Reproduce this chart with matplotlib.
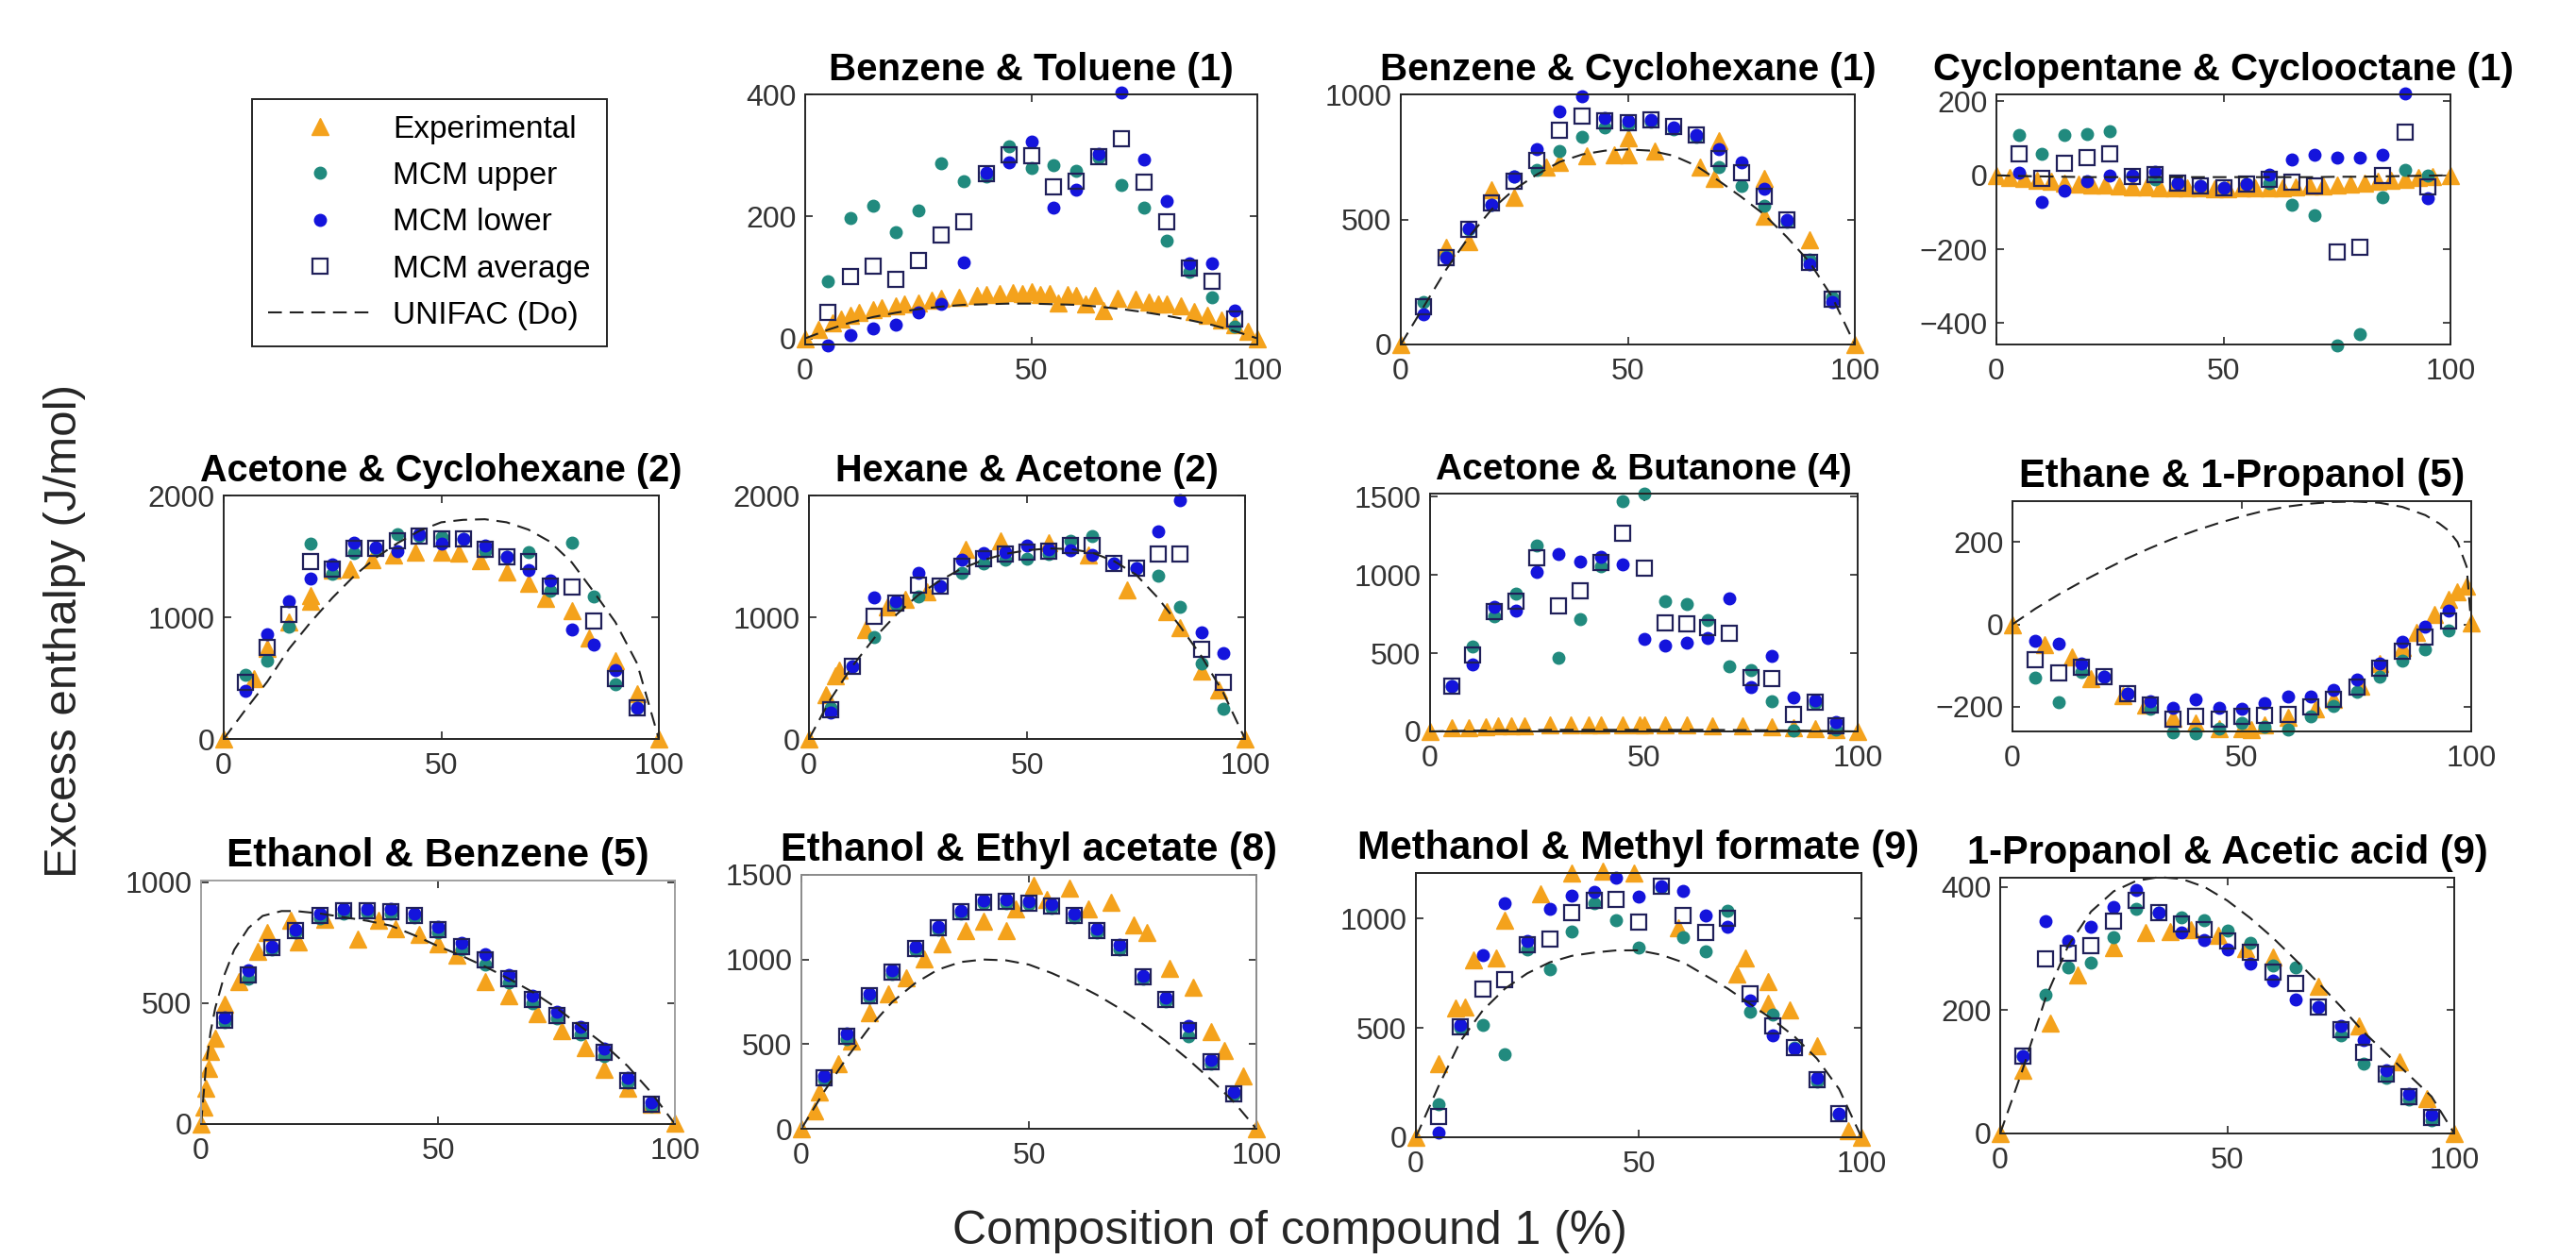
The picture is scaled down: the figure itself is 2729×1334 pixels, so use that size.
import matplotlib
matplotlib.use("Agg")
import matplotlib.pyplot as plt
from matplotlib.lines import Line2D

plt.rcParams['font.family'] = ['Liberation Sans', 'DejaVu Sans']

W, H = 2729, 1334

# composition of compound 1 (%) for the MCM points, shared by every panel
MCM_X = [5, 10, 15, 20, 25, 30, 35, 40, 45, 50, 55, 60, 65, 70, 75, 80, 85, 90, 95]
UNI_X = [0, 5, 10, 15, 20, 25, 30, 35, 40, 45, 50, 55, 60, 65, 70, 75, 80, 85, 90, 95, 100]

# Benzene & Toluene
bt_exp_x = [0, 3, 6, 8, 10, 12, 15, 17, 20, 22, 25, 28, 30, 34, 38, 40, 43, 46, 48, 50,
            52, 54, 56, 58, 60, 62, 64, 66, 69, 73, 76, 78, 80, 83, 86, 89, 92, 95, 98, 100]
bt_exp_y = [0, 15, 25, 32, 38, 42, 47, 50, 54, 56, 58, 62, 66, 68, 70, 72, 73, 75, 74, 76,
            72, 74, 58, 72, 70, 57, 70, 46, 66, 64, 60, 57, 57, 54, 44, 38, 30, 22, 12, 0]
bt_upper = [93, 198, 218, 174, 210, 287, 257, 265, 315, 279, 284, 275, 297, 252, 214, 160, 109, 67, 20]
bt_lower = [-12, 6, 17, 23, 43, 56, 124, 271, 288, 322, 214, 244, 303, 403, 293, 225, 123, 123, 45]
bt_avg = [42, 102, 118, 97, 127, 169, 191, 270, 301, 300, 248, 258, 298, 328, 256, 191, 116, 93, 32]
bt_uni = [0, 14, 26, 35, 42, 48, 52, 55, 56, 57, 57, 56, 55, 52, 48, 43, 37, 30, 22, 12, 0]

# Benzene & Cyclohexane
bc_exp_x = [0, 10, 15, 20, 25, 32, 35, 41, 47, 50, 50, 56, 66, 69, 70, 80, 80, 90, 100]
bc_exp_y = [0, 390, 410, 620, 590, 710, 730, 755, 760, 825, 760, 775, 710, 665, 815, 665, 515, 420, 0]
bc_upper = [170, 350, 460, 560, 673, 698, 774, 830, 868, 880, 890, 860, 830, 711, 635, 553, 490, 340, 190]
bc_lower = [120, 346, 465, 560, 673, 780, 931, 994, 906, 893, 899, 868, 836, 780, 730, 623, 500, 320, 170]
bc_avg = [151, 348, 459, 566, 654, 736, 855, 912, 893, 887, 899, 870, 836, 742, 686, 591, 497, 330, 180]
bc_uni = [0, 150, 300, 430, 540, 620, 680, 730, 760, 775, 780, 775, 755, 715, 655, 590, 520, 430, 330, 190, 0]

# Cyclopentane & Cyclooctane
cc_exp_x = [0, 3, 6, 9, 12, 15, 18, 21, 24, 27, 30, 33, 36, 39, 42, 45, 48, 51, 54, 57,
            60, 63, 66, 69, 72, 75, 78, 81, 84, 87, 90, 93, 96, 100]
cc_exp_y = [0, -5, -9, -13, -17, -20, -23, -25, -27, -29, -31, -32, -33, -34, -35, -35, -36, -36, -35, -35,
            -34, -33, -32, -30, -28, -26, -23, -20, -17, -13, -10, -7, -4, 0]
cc_upper = [110, 59, 108, 112, 119, 0, -11, -21, -28, -34, -24, -20, -79, -109, -460, -431, -60, 14, 0]
cc_lower = [6, -72, -41, -15, 0, 0, 10, -21, -28, -34, -24, 2, 43, 55, 49, 49, 55, 221, -62]
cc_avg = [59, -9, 33, 49, 57, -3, 2, -21, -28, -34, -24, -11, -18, -28, -207, -194, -1, 118, -32]
cc_uni = [0, -2, -3, -4, -5, -5, -5, -5, -5, -5, -5, -5, -5, -5, -5, -4, -4, -3, -2, -1, 0]

# Acetone & Cyclohexane
ach_exp_x = [0, 7, 10, 15, 20, 20, 25, 29, 34, 39, 44, 50, 54, 59, 65, 70, 74, 80, 84, 90, 95, 100]
ach_exp_y = [0, 500, 744, 960, 1180, 1128, 1385, 1397, 1474, 1513, 1538, 1538, 1526, 1462, 1372, 1282,
             1154, 1051, 833, 641, 372, 0]
ach_upper = [526, 641, 923, 1603, 1359, 1526, 1564, 1679, 1670, 1659, 1640, 1545, 1500, 1538, 1218, 1615, 1167, 449, 256]
ach_lower = [397, 859, 1128, 1321, 1436, 1615, 1577, 1544, 1679, 1603, 1641, 1590, 1500, 1385, 1300, 897, 774, 569, 256]
ach_avg = [462, 749, 1026, 1454, 1397, 1564, 1564, 1628, 1667, 1641, 1641, 1556, 1500, 1456, 1256, 1249, 967, 500, 256]
ach_uni = [0, 240, 470, 740, 960, 1160, 1340, 1490, 1610, 1710, 1780, 1800, 1805, 1780, 1720, 1620, 1450, 1210, 960, 620, 0]

# Hexane & Acetone
ha_exp_x = [0, 4, 6, 7, 13, 18, 22, 27, 36, 44, 55, 64, 73, 82, 85, 90, 94, 100]
ha_exp_y = [0, 361, 516, 568, 903, 1084, 1150, 1213, 1561, 1626, 1613, 1510, 1226, 1045, 916, 555, 400, 0]
ha_upper = [258, 594, 839, 1110, 1174, 1252, 1368, 1445, 1471, 1484, 1523, 1626, 1665, 1445, 1406, 1342, 1084, 619, 245]
ha_lower = [219, 594, 1161, 1130, 1368, 1252, 1471, 1528, 1535, 1587, 1561, 1548, 1510, 1445, 1406, 1703, 1961, 877, 702]
ha_avg = [240, 594, 1006, 1120, 1265, 1252, 1419, 1484, 1517, 1535, 1540, 1587, 1587, 1445, 1406, 1523, 1523, 735, 465]
ha_uni = [0, 330, 600, 830, 1020, 1180, 1300, 1400, 1470, 1520, 1550, 1565, 1560, 1530, 1460, 1350, 1160, 930, 680, 380, 0]

# Acetone & Butanone
ab_exp_x = [0, 5, 9, 13, 16, 19, 22, 28, 33, 37, 40, 45, 49, 50, 55, 60, 66, 73, 80, 85, 90, 95, 100]
ab_exp_y = [0, 22, 27, 31, 34, 36, 38, 40, 41, 42, 43, 44, 44, 44, 43, 41, 39, 35, 30, 25, 18, 10, 0]
ab_upper = [292, 543, 734, 879, 1187, 469, 718, 1056, 1469, 1523, 835, 815, 710, 416, 392, 195, 4, 180, 15]
ab_lower = [292, 427, 795, 775, 1020, 1133, 1087, 1113, 1070, 590, 549, 569, 598, 851, 282, 483, 215, 200, 60]
ab_avg = [292, 489, 765, 835, 1107, 801, 901, 1080, 1264, 1046, 694, 690, 664, 628, 342, 336, 107, 190, 38]
ab_uni = [0, 3, 5, 7, 8, 9, 10, 10, 10, 10, 10, 10, 10, 10, 9, 8, 7, 6, 4, 2, 0]

# Ethane & 1-Propanol
ep_exp_x = [0, 7, 13, 17, 24, 29, 35, 40, 45, 50, 52, 55, 60, 66, 70, 76, 80, 85, 88, 92, 95, 97, 99, 100]
ep_exp_y = [0, -50, -80, -132, -172, -195, -229, -240, -252, -252, -256, -244, -225, -206, -181, -149,
            -95, -57, -19, 23, 61, 80, 92, 4]
ep_upper = [-130, -189, -115, -128, -168, -206, -262, -265, -252, -240, -248, -256, -224, -198, -164, -126, -88, -61, -15]
ep_lower = [-40, -48, -95, -128, -168, -187, -202, -183, -202, -206, -191, -176, -176, -160, -135, -95, -42, -5, 34]
ep_avg = [-86, -117, -105, -128, -168, -196, -231, -224, -231, -224, -221, -219, -201, -183, -153, -107, -65, -31, 8]
ep_uni_x = [0, 5, 10, 15, 20, 25, 30, 35, 40, 45, 50, 55, 60, 65, 70, 75, 80, 85, 90, 93, 95, 97, 99, 100]
ep_uni_y = [0, 38, 72, 103, 132, 160, 185, 208, 228, 246, 262, 276, 286, 293, 297, 298, 295, 285, 265, 245,
            228, 200, 140, 0]

# Ethanol & Benzene
eb_exp_x = [0, 0.5, 1, 1.5, 2, 3, 5, 8, 12, 14, 19, 20.5, 26, 33, 37.5, 41, 46, 50, 54, 60,
            65, 71, 76, 81, 85, 90, 95, 100]
eb_exp_y = [0, 70, 150, 230, 300, 355, 497, 588, 712, 790, 842, 751, 848, 764, 842, 809, 783, 744, 699, 588,
            530, 458, 387, 316, 225, 147, 82, 4]
eb_upper = [420, 600, 720, 790, 850, 870, 875, 870, 855, 790, 720, 660, 585, 500, 435, 370, 280, 170, 75]
eb_lower = [440, 635, 735, 805, 870, 890, 890, 888, 870, 815, 750, 700, 615, 530, 465, 400, 310, 190, 90]
eb_avg = [430, 618, 728, 798, 860, 880, 882, 879, 862, 802, 735, 680, 600, 515, 450, 385, 295, 180, 82]
eb_uni_x = [0, 1, 2, 3, 5, 7, 10, 13, 17, 20, 25, 30, 35, 40, 45, 50, 55, 60, 65, 70, 75, 80, 85, 90, 95, 100]
eb_uni_y = [0, 230, 380, 480, 620, 720, 810, 860, 880, 880, 870, 855, 840, 820, 780, 735, 695, 650, 600, 545,
            480, 405, 330, 240, 130, 0]

# Ethanol & Ethyl acetate
ee_exp_x = [0, 3, 4, 8, 11, 15, 19, 23, 27, 31, 36, 40, 45, 47, 51, 54, 59, 63, 68, 73, 76, 81, 86, 90, 93, 97, 100]
ee_exp_y = [0, 108, 220, 387, 518, 685, 797, 890, 1002, 1095, 1169, 1225, 1169, 1300, 1439, 1356, 1421, 1300,
            1337, 1207, 1160, 946, 834, 574, 462, 313, 0]
ee_upper = [290, 530, 775, 915, 1055, 1175, 1270, 1330, 1335, 1325, 1305, 1250, 1160, 1060, 885, 755, 546, 385, 200]
ee_lower = [310, 565, 795, 935, 1075, 1195, 1290, 1352, 1355, 1345, 1325, 1270, 1180, 1085, 905, 775, 610, 405, 215]
ee_avg = [300, 548, 785, 925, 1065, 1185, 1280, 1341, 1345, 1335, 1315, 1260, 1170, 1072, 895, 765, 578, 395, 208]
ee_uni = [0, 220, 420, 600, 750, 860, 940, 985, 1000, 995, 970, 920, 860, 790, 710, 620, 520, 410, 290, 160, 0]

# Methanol & Methyl formate
mm_exp_x = [0, 5, 9, 11, 13, 18, 20, 28, 35, 42, 49, 59, 72, 74, 79, 79, 84, 90, 97, 100]
mm_exp_y = [0, 338, 590, 597, 813, 820, 993, 1115, 1209, 1216, 1209, 957, 748, 820, 712, 612, 583, 418, 30, 0]
mm_upper = [151, 500, 514, 381, 860, 770, 942, 1072, 993, 868, 1144, 917, 849, 1036, 575, 561, 410, 255, 105]
mm_lower = [22, 514, 835, 1072, 900, 1043, 1104, 1122, 1187, 1101, 1150, 1129, 1014, 964, 626, 468, 405, 270, 108]
mm_avg = [96, 504, 676, 719, 880, 906, 1029, 1085, 1086, 986, 1147, 1014, 935, 1000, 655, 511, 410, 262, 106]
mm_uni = [0, 230, 440, 580, 680, 750, 800, 830, 845, 855, 855, 835, 800, 740, 680, 610, 540, 460, 360, 220, 0]

# 1-Propanol & Acetic acid
pa_exp_x = [0, 5, 11, 17, 25, 32, 37.5, 42, 48, 54, 60, 70, 79, 88, 94, 100]
pa_exp_y = [0, 103, 179, 258, 302, 326, 328, 331, 322, 300, 287, 239, 175, 116, 57, 0]
pa_upper = [125, 225, 270, 277, 319, 364, 359, 351, 346, 329, 310, 272, 270, 205, 160, 114, 90, 55, 22]
pa_lower = [125, 344, 313, 335, 367, 395, 359, 326, 314, 298, 276, 248, 218, 205, 175, 152, 102, 65, 30]
pa_avg = [125, 283, 293, 304, 344, 379, 359, 340, 331, 313, 294, 262, 244, 205, 168, 131, 96, 60, 26]
pa_uni = [0, 105, 220, 305, 360, 393, 410, 416, 413, 400, 378, 350, 318, 282, 245, 206, 165, 130, 95, 60, 0]

ORANGE = '#f4a21c'
TEAL = '#218a7e'
BLUE = '#1414dc'
NAVY = '#20205a'

# title, box in pixels (left, right, top, bottom), ylim, yticks, data..., title size, side spine colour
panels = [
    ("Benzene & Toluene (1)", (853, 1332, 100, 365), (-10, 400), [0, 200, 400],
     bt_exp_x, bt_exp_y, bt_upper, bt_lower, bt_avg, UNI_X, bt_uni, 29, '#262626'),
    ("Benzene & Cyclohexane (1)", (1484, 1965, 100, 365), (0, 1000), [0, 500, 1000],
     bc_exp_x, bc_exp_y, bc_upper, bc_lower, bc_avg, UNI_X, bc_uni, 29, '#262626'),
    ("Cyclopentane & Cyclooctane (1)", (2115, 2596, 100, 365), (-458, 219), [-400, -200, 0, 200],
     cc_exp_x, cc_exp_y, cc_upper, cc_lower, cc_avg, UNI_X, cc_uni, 29, '#262626'),
    ("Acetone & Cyclohexane (2)", (237, 698, 525, 783), (0, 2000), [0, 1000, 2000],
     ach_exp_x, ach_exp_y, ach_upper, ach_lower, ach_avg, UNI_X, ach_uni, 28.5, '#262626'),
    ("Hexane & Acetone (2)", (857, 1319, 525, 783), (0, 2000), [0, 1000, 2000],
     ha_exp_x, ha_exp_y, ha_upper, ha_lower, ha_avg, UNI_X, ha_uni, 28.5, '#262626'),
    ("Acetone & Butanone (4)", (1515, 1968, 523, 775), (0, 1520), [0, 500, 1000, 1500],
     ab_exp_x, ab_exp_y, ab_upper, ab_lower, ab_avg, UNI_X, ab_uni, 28, '#262626'),
    ("Ethane & 1-Propanol (5)", (2132, 2618, 531, 775), (-260, 299), [-200, 0, 200],
     ep_exp_x, ep_exp_y, ep_upper, ep_lower, ep_avg, ep_uni_x, ep_uni_y, 30, '#262626'),
    ("Ethanol & Benzene (5)", (213, 715, 933, 1191), (0, 1006), [0, 500, 1000],
     eb_exp_x, eb_exp_y, eb_upper, eb_lower, eb_avg, eb_uni_x, eb_uni_y, 30.5, '#a0a0a0'),
    ("Ethanol & Ethyl acetate (8)", (849, 1331, 927, 1196), (0, 1500), [0, 500, 1000, 1500],
     ee_exp_x, ee_exp_y, ee_upper, ee_lower, ee_avg, UNI_X, ee_uni, 30, '#8a8a8a'),
    ("Methanol & Methyl formate (9)", (1500, 1972, 925, 1205), (0, 1209), [0, 500, 1000],
     mm_exp_x, mm_exp_y, mm_upper, mm_lower, mm_avg, UNI_X, mm_uni, 30, '#262626'),
    ("1-Propanol & Acetic acid (9)", (2119, 2600, 930, 1201), (0, 415), [0, 200, 400],
     pa_exp_x, pa_exp_y, pa_upper, pa_lower, pa_avg, UNI_X, pa_uni, 30, '#262626'),
]

fig = plt.figure(figsize=(W / 100, H / 100), dpi=100)

for (title, box, ylim, yticks, ex, ey, up, lo, av, ux, uy, tsize, side) in panels:
    l, r, t, b = box
    ax = fig.add_axes([l / W, 1 - b / H, (r - l) / W, (b - t) / H])
    ax.plot(ex, ey, ls='none', marker='^', ms=13, color=ORANGE, mec=ORANGE, clip_on=False)
    ax.plot(MCM_X, up, ls='none', marker='o', ms=9, color=TEAL, mec=TEAL, clip_on=False)
    ax.plot(MCM_X, lo, ls='none', marker='o', ms=9, color=BLUE, mec=BLUE, clip_on=False)
    ax.plot(MCM_X, av, ls='none', marker='s', ms=11.5, mfc='none', mec=NAVY, mew=1.6, clip_on=False)
    ax.plot(ux, uy, ls=(0, (7, 4)), lw=1.5, color='#222222', clip_on=False)
    ax.set_xlim(0, 100)
    ax.set_ylim(*ylim)
    ax.set_xticks([0, 50, 100])
    ax.set_yticks(yticks)
    ax.tick_params(direction='in', length=6, width=1.2, top=True, right=True,
                   labelsize=23, labelcolor='#333333', color='#262626')
    ax.tick_params(axis='x', pad=10)
    ax.tick_params(axis='y', pad=7)
    for s in ax.spines.values():
        s.set_color(side)
        s.set_linewidth(1.4)
    ax.spines['bottom'].set_color('#262626')
    ax.set_title(title, fontsize=tsize, fontweight='bold', pad=11)

handles = [
    Line2D([], [], ls='none', marker='^', ms=13, color=ORANGE),
    Line2D([], [], ls='none', marker='o', ms=9, color=TEAL),
    Line2D([], [], ls='none', marker='o', ms=9, color=BLUE),
    Line2D([], [], ls='none', marker='s', ms=11.5, mfc='none', mec=NAVY, mew=1.6),
    Line2D([], [], ls=(0, (7, 4)), lw=1.5, color='#222222'),
]
labels = ["Experimental", "MCM upper", "MCM lower", "MCM average", "UNIFAC (Do)"]
leg = fig.legend(handles, labels, loc='upper left', bbox_to_anchor=(267 / W, 1 - 105 / H),
                 borderaxespad=0, fontsize=24, handlelength=3.3, handletextpad=0.68,
                 labelspacing=0.55, borderpad=0.5, fancybox=False, framealpha=1)
leg.get_frame().set_edgecolor('#262626')
leg.get_frame().set_linewidth(1.4)

fig.text(69 / W, 1 - 668 / H, "Excess enthalpy (J/mol)", rotation=90, ha='center', va='center',
         fontsize=35.5, color='#262626')
fig.text(1366 / W, 1 - 1305 / H, "Composition of compound 1 (%)", ha='center', va='center',
         fontsize=36, color='#262626')

fig.savefig('out.png', dpi=100)
